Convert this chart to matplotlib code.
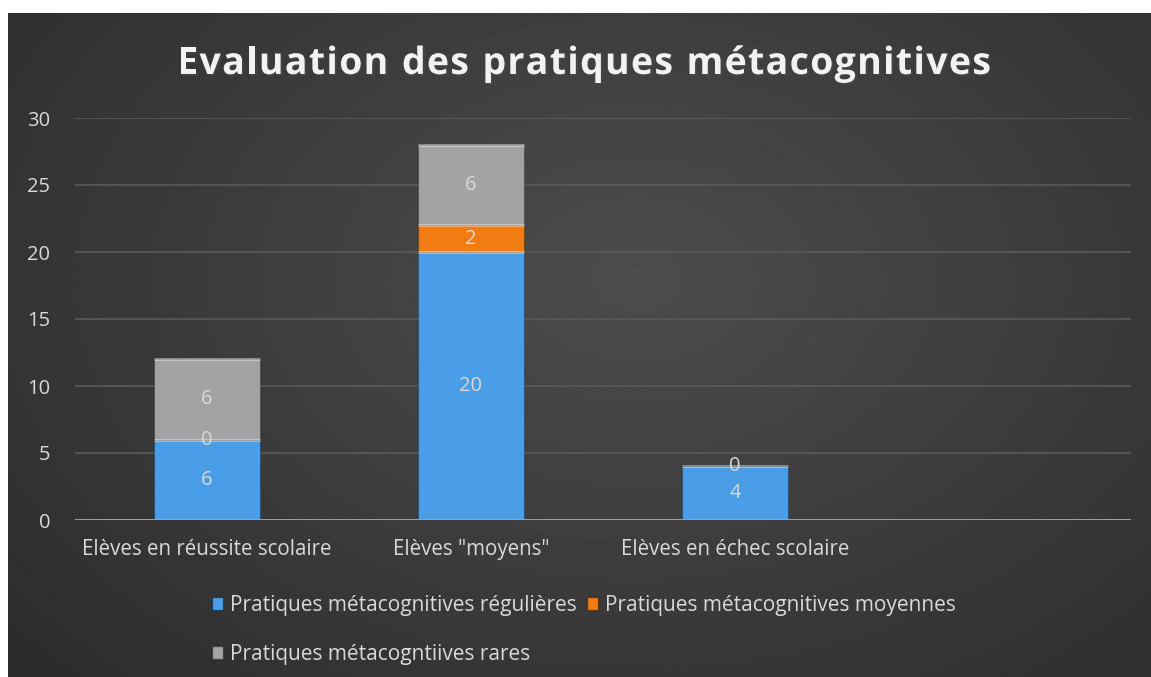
import numpy as np
import matplotlib.pyplot as plt
import matplotlib.patheffects as pe
from matplotlib.patches import Patch

# categories (last slot is empty in the original chart)
categories = ["Elèves en réussite scolaire", 'Elèves "moyens"', "Elèves en échec scolaire", ""]
regulieres = [6, 20, 4, np.nan]
moyennes = [0, 2, 0, np.nan]
rares = [6, 6, np.nan, np.nan]
series_names = ["Pratiques métacognitives régulières",
                "Pratiques métacognitives moyennes",
                "Pratiques métacogntiives rares"]
colors = ["#4a9ee8", "#f07c12", "#a3a3a3"]
yticks = [0, 5, 10, 15, 20, 25, 30]
title = "Evaluation des pratiques métacognitives"

plt.rcParams['font.family'] = ['Open Sans', 'DejaVu Sans']
txt = "#d9d9d9"

W, H = 1151, 677
fig = plt.figure(figsize=(W / 100, H / 100), dpi=100, facecolor="white")

# dark gradient background
bg = fig.add_axes([8 / W, 0, 1 - 8 / W, 1 - 13 / H])
yy, xx = np.mgrid[0:1:300j, 0:1:500j]
r = np.sqrt(((xx - 0.55) / 0.75) ** 2 + ((yy - 0.4) / 0.9) ** 2)
shade = 0.30 - 0.13 * np.clip(r, 0, 1)
bg.imshow(shade, cmap="gray", vmin=0, vmax=1, aspect="auto", extent=[0, 1, 1, 0])
bg.axis("off")

ax = fig.add_axes([75 / W, 1 - 520 / H, (1131 - 75) / W, (520 - 118) / H])
ax.patch.set_alpha(0)
x = np.arange(len(categories))
bw = 0.4
bottom = np.zeros(len(categories))
for vals, col in zip([regulieres, moyennes, rares], colors):
    v = np.array(vals, dtype=float)
    h = np.nan_to_num(v)
    ax.bar(x, h, bw, bottom=bottom, color=col, edgecolor="#00000040", linewidth=0.8, zorder=3)
    for xi, b, hi, vi in zip(x, bottom, h, v):
        if np.isnan(vi):
            continue
        # light top edge for a bevel look
        if hi > 0:
            ax.plot([xi - bw / 2, xi + bw / 2], [b + hi, b + hi], color="white", alpha=0.45, lw=2, zorder=4,
                    solid_capstyle="butt")
        ax.text(xi, b + hi / 2, f"{int(vi)}", ha="center", va="center", color=txt, fontsize=14.5, zorder=5)
    bottom = bottom + h

ax.set_xlim(-0.5, 3.5)
ax.set_ylim(0, 30)
ax.set_yticks(yticks)
ax.yaxis.grid(True, color="#5a5a5a", lw=1.2, zorder=0)
ax.axhline(0, color="#a6a6a6", lw=2, zorder=4)
ax.set_xticks(x)
ax.set_xticklabels(categories)
ax.tick_params(axis="both", length=0, colors=txt, labelsize=14.5)
ax.tick_params(axis="x", labelsize=14.8, pad=14)
ax.tick_params(axis="y", pad=18)
for s in ax.spines.values():
    s.set_visible(False)

# title with letter spacing, laid out char by char
renderer = fig.canvas.get_renderer()
tkw = dict(color="#f2f2f2", fontsize=27, fontweight="bold", va="center", ha="left",
           path_effects=[pe.withSimplePatchShadow(offset=(1.5, -1.5), alpha=0.5)])
widths = []
for ch in title:
    t = fig.text(0, 0, ch if ch != " " else "n", **tkw)
    wch = t.get_window_extent(renderer).width
    if ch == " ":
        wch *= 0.45
    widths.append(wch)
    t.remove()
track = 1.3
total = sum(widths) + track * (len(title) - 1)
xpos = 584 - total / 2
for ch, wch in zip(title, widths):
    if ch != " ":
        fig.text(xpos / W, 1 - 64 / H, ch, **tkw)
    xpos += wch + track

order = [0, 2, 1]
handles = [Patch(facecolor=colors[i], edgecolor="#00000060") for i in order]
labels = [series_names[i] for i in order]
fig.legend(handles, labels, ncol=2, loc="upper left", bbox_to_anchor=(212 / W, 1 - 595 / H),
           frameon=False, fontsize=15, labelcolor=txt, handlelength=0.55, handleheight=0.55,
           handletextpad=0.3, columnspacing=0.5, labelspacing=1.35, borderaxespad=0, borderpad=0)

fig.savefig("out.png", dpi=100, facecolor=fig.get_facecolor())
